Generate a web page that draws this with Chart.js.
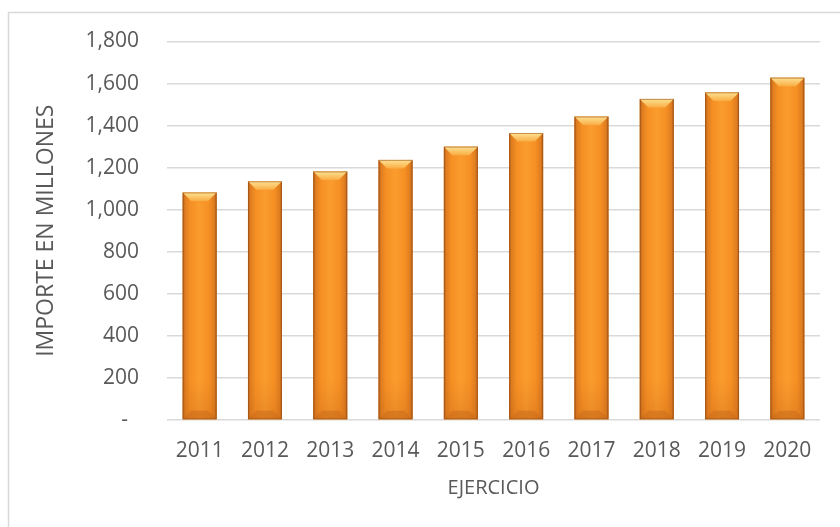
<!DOCTYPE html>
<html>
<head>
<meta charset="utf-8">
<script src="https://cdn.jsdelivr.net/npm/chart.js@4/dist/chart.umd.min.js"></script>
<style>
  html, body { margin: 0; padding: 0; background: #ffffff; }
  #wrap { width: 840px; height: 527px; }
</style>
</head>
<body>
<div id="wrap"><canvas id="barChart" width="840" height="527"></canvas></div>
<script>
const YEARS = ["2011", "2012", "2013", "2014", "2015", "2016", "2017", "2018", "2019", "2020"];
const IMPORTE = [1082, 1135, 1182, 1237, 1300, 1365, 1443, 1527, 1558, 1628];
const Y_TICKS = [0, 200, 400, 600, 800, 1000, 1200, 1400, 1600, 1800];

const TEXT = "#595959";
const FONT = "'Open Sans', 'Noto Sans', sans-serif";

// light frame around the whole chart, like the office chart area border
const frame = {
  id: "frame",
  beforeDraw: function(chart) {
    var ctx = chart.ctx;
    ctx.save();
    ctx.fillStyle = "#ffffff";
    ctx.fillRect(0, 0, chart.width, chart.height);
    ctx.strokeStyle = "#d9d9d9";
    ctx.lineWidth = 1.5;
    ctx.strokeRect(8.5, 12.5, chart.width + 10, chart.height + 10);
    ctx.restore();
  }
};

// paint the bevelled orange look over each bar the library placed
const bevel = {
  id: "bevel",
  afterDatasetsDraw: function(chart) {
    var ctx = chart.ctx;
    chart.getDatasetMeta(0).data.forEach(function(bar) {
      var w = bar.width, l = bar.x - w / 2, r = bar.x + w / 2, t = bar.y, b = bar.base;
      var s = Math.min(9, w / 4);
      ctx.save();
      var g = ctx.createLinearGradient(l, 0, r, 0);
      g.addColorStop(0, "#b55d1b");
      g.addColorStop(0.07, "#de7d20");
      g.addColorStop(0.22, "#f58f24");
      g.addColorStop(0.5, "#fa9c2e");
      g.addColorStop(0.78, "#f58f24");
      g.addColorStop(0.93, "#de7d20");
      g.addColorStop(1, "#b55d1b");
      ctx.fillStyle = g;
      ctx.fillRect(l, t, w, b - t);

      // darker lower part
      var gb = ctx.createLinearGradient(0, b - 40, 0, b);
      gb.addColorStop(0, "rgba(200,100,20,0)");
      gb.addColorStop(1, "rgba(190,95,20,0.3)");
      ctx.fillStyle = gb;
      ctx.fillRect(l, b - 40, w, 40);

      // top facet
      var gt = ctx.createLinearGradient(0, t, 0, t + s);
      gt.addColorStop(0, "#fee394");
      gt.addColorStop(1, "#f9ad44");
      ctx.fillStyle = gt;
      ctx.beginPath();
      ctx.moveTo(l, t);
      ctx.lineTo(r, t);
      ctx.lineTo(r - s, t + s);
      ctx.lineTo(l + s, t + s);
      ctx.closePath();
      ctx.fill();

      // bottom facet
      ctx.fillStyle = "rgba(200,105,25,0.5)";
      ctx.beginPath();
      ctx.moveTo(l, b);
      ctx.lineTo(r, b);
      ctx.lineTo(r - s, b - s);
      ctx.lineTo(l + s, b - s);
      ctx.closePath();
      ctx.fill();

      ctx.strokeStyle = "rgba(150,78,20,0.55)";
      ctx.lineWidth = 1;
      ctx.strokeRect(l + 0.5, t + 0.5, w - 1, b - t - 1);
      ctx.restore();
    });
  }
};

new Chart(document.getElementById("barChart"), {
  type: "bar",
  data: {
    labels: YEARS,
    datasets: [{
      label: "Importe",
      data: IMPORTE,
      backgroundColor: "#f7931e",
      borderWidth: 0,
      barPercentage: 0.52,
      categoryPercentage: 1
    }]
  },
  options: {
    responsive: false,
    animation: false,
    layout: { padding: { top: 41.5, right: 20, bottom: 0, left: 0 } },
    scales: {
      x: {
        grid: { display: false },
        border: { display: false },
        ticks: { color: TEXT, font: { family: FONT, size: 21 }, padding: 10 },
        title: {
          display: true,
          text: "EJERCICIO",
          color: TEXT,
          font: { family: FONT, size: 20 },
          padding: { top: 0, bottom: 27 }
        },
        afterFit: function(scale) { scale.height = 107; }
      },
      y: {
        min: 0,
        max: 1800,
        afterBuildTicks: function(scale) {
          scale.ticks = Y_TICKS.map(function(v) { return { value: v }; });
        },
        grid: { color: "#d9d9d9", lineWidth: 1.5, drawTicks: false },
        border: { display: false },
        ticks: {
          color: TEXT,
          font: { family: FONT, size: 21 },
          padding: 28,
          callback: function(v) { return v === 0 ? "-  " : v.toLocaleString("en-US"); }
        },
        title: {
          display: true,
          text: "IMPORTE EN MILLONES",
          color: TEXT,
          font: { family: FONT, size: 23 },
          padding: { top: 33, bottom: 0 }
        },
        afterFit: function(scale) { scale.width = 167; }
      }
    },
    plugins: {
      legend: { display: false },
      tooltip: { enabled: false }
    }
  },
  plugins: [frame, bevel]
});
</script>
</body>
</html>
